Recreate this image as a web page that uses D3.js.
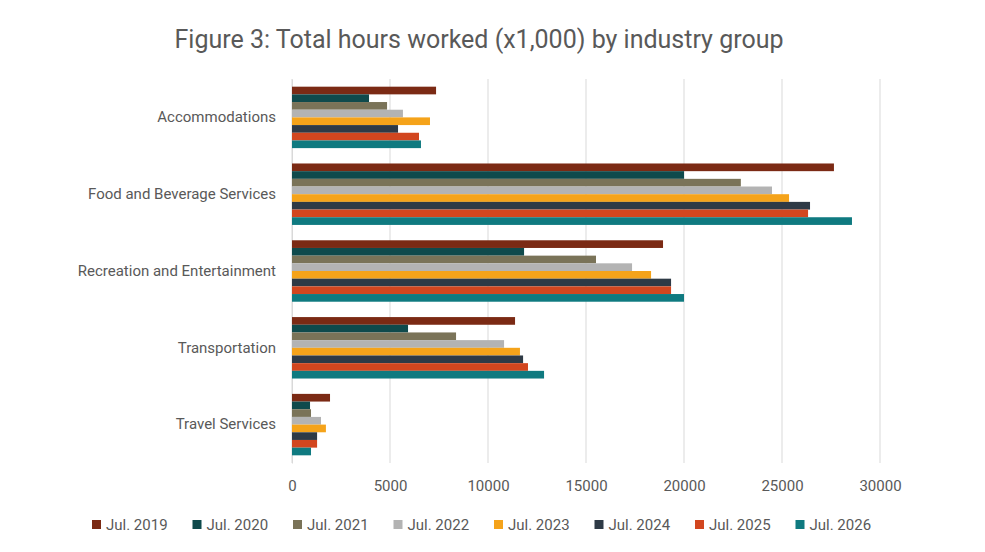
<!DOCTYPE html>
<html><head><meta charset="utf-8">
<script src="https://cdn.jsdelivr.net/npm/d3@7"></script>
<style>body{margin:0;background:#fff;font-family:Roboto,"Noto Sans",sans-serif;}</style>
</head><body><svg id="chart" width="985" height="552"></svg>
<script>
// categories and series
var categories = ["Accommodations", "Food and Beverage Services", "Recreation and Entertainment", "Transportation", "Travel Services"];
var seriesNames = ["Jul. 2019", "Jul. 2020", "Jul. 2021", "Jul. 2022", "Jul. 2023", "Jul. 2024", "Jul. 2025", "Jul. 2026"];
var colors = ["#7B2A14", "#0F4A4C", "#7A7358", "#B3B3B3", "#F5A31A", "#2E3A46", "#D2461F", "#0F7A80"];
var v2019 = [7350, 27650, 18930, 11380, 1940];
var v2020 = [3930, 20000, 11840, 5920, 920];
var v2021 = [4850, 22900, 15510, 8370, 970];
var v2022 = [5660, 24490, 17350, 10820, 1480];
var v2023 = [7040, 25360, 18320, 11630, 1730];
var v2024 = [5410, 26430, 19340, 11790, 1280];
var v2025 = [6480, 26330, 19340, 12040, 1280];
var v2026 = [6580, 28570, 20000, 12860, 970];
var xTicks = [0, 5000, 10000, 15000, 20000, 25000, 30000];
var allValues = [v2019, v2020, v2021, v2022, v2023, v2024, v2025, v2026];

var svg = d3.select("#chart");
var mLeft = 292, mRight = 880, mTop = 79, mBottom = 463;

var x = d3.scaleLinear().domain([0, 30000]).range([mLeft, mRight]);
var y = d3.scaleBand().domain(categories).range([mTop, mBottom]).paddingInner(0.2).paddingOuter(0.1);
var y1 = d3.scaleBand().domain(seriesNames).range([0, y.bandwidth()]);

svg.append("text").attr("x", 479).attr("y", 48).attr("text-anchor", "middle")
  .attr("font-size", 25).attr("fill", "#595959")
  .text("Figure 3: Total hours worked (x1,000) by industry group");

// gridlines
svg.append("g").selectAll("line").data(xTicks).join("line")
  .attr("x1", d => x(d)).attr("x2", d => x(d)).attr("y1", mTop).attr("y2", mBottom)
  .attr("stroke", "#d9d9d9").attr("stroke-width", 1);

var xAxis = svg.append("g").attr("transform", "translate(0," + mBottom + ")")
  .call(d3.axisBottom(x).tickValues(xTicks).tickFormat(d3.format("d")).tickSize(0).tickPadding(17));
xAxis.select(".domain").remove();
xAxis.selectAll("text").attr("font-size", 15).attr("fill", "#595959").attr("font-family", "Roboto,sans-serif");

var yAxis = svg.append("g").attr("transform", "translate(" + mLeft + ",0)")
  .call(d3.axisLeft(y).tickSize(0).tickPadding(16));
yAxis.select(".domain").attr("stroke", "#d9d9d9");
yAxis.selectAll("text").attr("font-size", 15).attr("fill", "#595959").attr("font-family", "Roboto,sans-serif");

seriesNames.forEach(function(s, i) {
  svg.append("g").selectAll("rect").data(allValues[i]).join("rect")
    .attr("x", x(0))
    .attr("y", (d, j) => y(categories[j]) + y1(s))
    .attr("width", d => x(d) - x(0))
    .attr("height", y1.bandwidth())
    .attr("fill", colors[i]);
});

// legend
var lg = svg.append("g");
seriesNames.forEach(function(s, i) {
  var lx = 92 + i * 100.5;
  lg.append("rect").attr("x", lx).attr("y", 520).attr("width", 9).attr("height", 9).attr("fill", colors[i]);
  lg.append("text").attr("x", lx + 14).attr("y", 530).attr("font-size", 15).attr("fill", "#595959").text(s);
});
</script>
</body></html>
